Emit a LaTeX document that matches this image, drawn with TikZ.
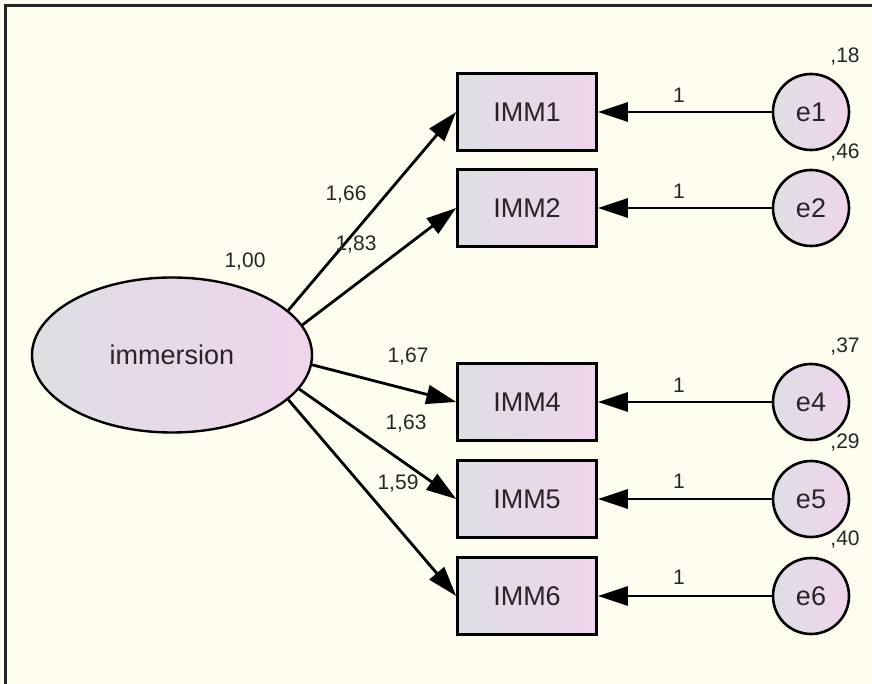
\documentclass[tikz,border=0pt]{standalone}
\usepackage{fontspec}
\setmainfont{Liberation Sans}
\usetikzlibrary{arrows.meta,shapes.geometric}

\definecolor{paper}{HTML}{FFFDEF}
\definecolor{shadeL}{HTML}{DEDEE3}
\definecolor{shadeR}{HTML}{EFD5EC}
\definecolor{ink}{HTML}{2A2225}

\begin{document}
\begin{tikzpicture}[
                x=1pt, y=-1pt,
                every node/.style={text=ink},
                latent/.style={
                        ellipse, draw=black, line width=2.4pt,
                        left color=shadeL, right color=shadeR,
                        minimum width=280pt, minimum height=155pt,
                        inner sep=0pt, font=\fontsize{27}{30}\selectfont
                    },
                observed/.style={
                        rectangle, draw=black, line width=2.6pt,
                        left color=shadeL, right color=shadeR,
                        minimum width=139pt, minimum height=77pt,
                        inner sep=0pt, font=\fontsize{27}{30}\selectfont
                    },
                errorvar/.style={
                        circle, draw=black, line width=2.6pt,
                        left color=shadeL, right color=shadeR,
                        minimum size=76pt, inner sep=0pt,
                        font=\fontsize{27}{30}\selectfont
                    },
                est/.style={font=\fontsize{21}{24}\selectfont, text=black!85, inner sep=0pt},
                path/.style={line width=2.8pt, draw=black,
                        -{Triangle[length=30pt,width=19pt]}}
            ]

            % Fondo y marco
            \useasboundingbox (0,0) rectangle (872,684);
            \fill[paper] (0,0) rectangle (872,684);
            \draw[line width=3pt, black!85] (872,6) -- (5,6) -- (5,684);

            % Variable latente
            \node[latent] (imm) at (172,355) {immersion};
            \node[est] (vimm) at (245,262) {1,00};

            % Indicadores
            \node[observed] (imm1) at (527,112) {IMM1};
            \node[observed] (imm2) at (527,208) {IMM2};
            \node[observed] (imm4) at (527,402) {IMM4};
            \node[observed] (imm5) at (527,499) {IMM5};
            \node[observed] (imm6) at (527,596) {IMM6};

            % Errores
            \node[errorvar] (e1) at (811,112) {e1};
            \node[errorvar] (e2) at (811,208) {e2};
            \node[errorvar] (e4) at (811,402) {e4};
            \node[errorvar] (e5) at (811,499) {e5};
            \node[errorvar] (e6) at (811,596) {e6};

            % Varianzas de error
            \node[est] (ve1) at (845,57) {,18};
            \node[est] (ve2) at (845,153) {,46};
            \node[est] (ve4) at (845,347) {,37};
            \node[est] (ve5) at (845,443) {,29};
            \node[est] (ve6) at (845,540) {,40};

            % Cargas
            \draw[path] (imm.21) -- (imm1.west);
            \draw[path] (imm.13.5) -- (imm2.west);
            \draw[path] (imm.-4.3) -- (imm4.west);
            \draw[path] (imm.-15.2) -- (imm5.west);
            \draw[path] (imm.-21) -- (imm6.west);

            \node[est] (l1) at (346,195) {1,66};
            \node[est] (l2) at (356,245) {1,83};
            \node[est] (l4) at (408,357) {1,67};
            \node[est] (l5) at (406,424) {1,63};
            \node[est] (l6) at (398,484) {1,59};

            % Errores a indicadores
            \draw[path] (e1) -- (imm1.east);
            \draw[path] (e2) -- (imm2.east);
            \draw[path] (e4) -- (imm4.east);
            \draw[path] (e5) -- (imm5.east);
            \draw[path] (e6) -- (imm6.east);

            \node[est] (f1) at (679,95) {1};
            \node[est] (f2) at (679,191) {1};
            \node[est] (f4) at (679,385) {1};
            \node[est] (f5) at (679,481) {1};
            \node[est] (f6) at (679,577) {1};

        \end{tikzpicture}
\end{document}
